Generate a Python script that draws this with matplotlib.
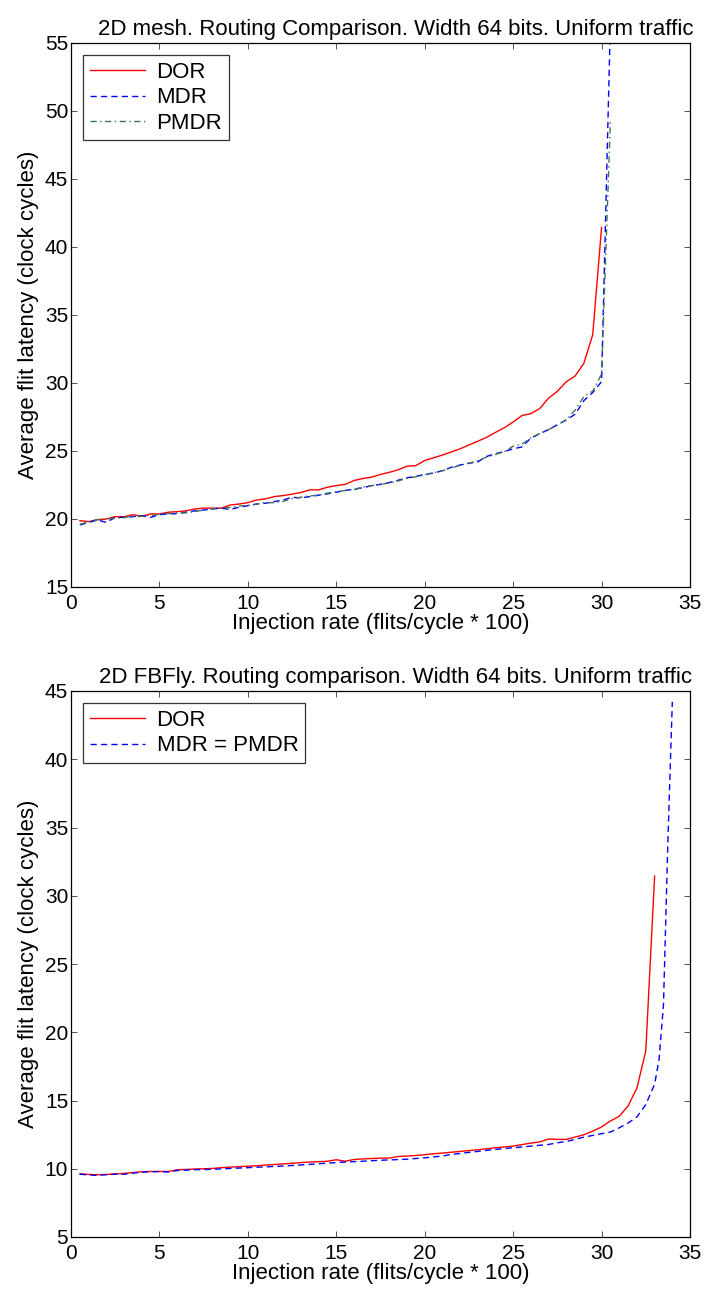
import numpy as np
import matplotlib
matplotlib.use("Agg")
import matplotlib.pyplot as plt
from matplotlib import font_manager

available = {f.name for f in font_manager.fontManager.ttflist}
family = [f for f in ["Liberation Sans", "DejaVu Sans"] if f in available]
plt.rcParams["font.family"] = family

# ---- 2D mesh data ----
mesh_rate_dor = np.arange(0.5, 30.01, 0.5)
mesh_dor = [19.88, 19.80, 19.95, 20.00, 20.17, 20.17, 20.32, 20.20, 20.37, 20.37,
            20.50, 20.54, 20.60, 20.74, 20.80, 20.80, 20.80, 21.03, 21.10, 21.20,
            21.40, 21.48, 21.65, 21.72, 21.83, 21.95, 22.14, 22.14, 22.34, 22.46,
            22.54, 22.83, 22.98, 23.08, 23.28, 23.43, 23.62, 23.88, 23.93, 24.30,
            24.50, 24.70, 24.93, 25.16, 25.44, 25.72, 26.00, 26.37, 26.71, 27.13,
            27.61, 27.75, 28.12, 28.88, 29.39, 30.09, 30.51, 31.45, 33.56, 41.43]

mesh_rate_mdr = np.arange(0.5, 30.51, 0.5)
mesh_mdr = [19.56, 19.75, 19.93, 19.75, 20.12, 20.12, 20.17, 20.25, 20.12, 20.32,
            20.37, 20.40, 20.50, 20.60, 20.66, 20.74, 20.80, 20.70, 20.86, 20.98,
            21.10, 21.16, 21.28, 21.40, 21.60, 21.55, 21.65, 21.75, 21.85, 21.97,
            22.10, 22.20, 22.30, 22.45, 22.55, 22.68, 22.85, 23.03, 23.13, 23.28,
            23.38, 23.55, 23.80, 23.97, 24.10, 24.20, 24.60, 24.80, 24.96, 25.16,
            25.30, 25.95, 26.28, 26.57, 26.93, 27.27, 27.70, 28.70, 29.30, 30.10,
            56.60]
mesh_pmdr = [19.60, 19.80, 19.95, 20.00, 20.05, 20.10, 20.20, 20.20, 20.25, 20.35,
             20.40, 20.45, 20.45, 20.55, 20.65, 20.75, 20.80, 20.85, 20.95, 21.00,
             21.10, 21.20, 21.20, 21.30, 21.50, 21.60, 21.70, 21.75, 21.90, 22.00,
             22.10, 22.15, 22.35, 22.45, 22.55, 22.65, 22.80, 23.00, 23.10, 23.25,
             23.40, 23.55, 23.75, 23.95, 24.10, 24.30, 24.55, 24.75, 24.95, 25.35,
             25.50, 25.95, 26.28, 26.57, 26.90, 27.30, 28.00, 29.00, 29.40, 30.66,
             49.30]

# ---- 2D FBFly data ----
fb_rate_dor = np.arange(0.5, 33.01, 0.5)
fb_dor = [9.63, 9.58, 9.56, 9.58, 9.62, 9.66, 9.72, 9.78, 9.80, 9.80,
          9.80, 9.92, 9.95, 9.98, 10.00, 10.02, 10.08, 10.12, 10.15, 10.19,
          10.22, 10.27, 10.31, 10.36, 10.40, 10.45, 10.49, 10.52, 10.55, 10.66,
          10.55, 10.68, 10.72, 10.75, 10.78, 10.78, 10.90, 10.93, 10.97, 11.03,
          11.10, 11.15, 11.21, 11.27, 11.33, 11.39, 11.46, 11.54, 11.60, 11.66,
          11.77, 11.88, 11.96, 12.18, 12.15, 12.15, 12.32, 12.49, 12.76, 13.06,
          13.50, 13.84, 14.60, 15.92, 18.63, 31.44]

fb_rate_mdr = np.concatenate([np.arange(0.5, 33.01, 0.5), [33.25, 33.5, 33.75, 34.0]])
fb_mdr = [9.60, 9.55, 9.51, 9.57, 9.60, 9.60, 9.68, 9.75, 9.78, 9.80,
          9.76, 9.87, 9.90, 9.93, 9.94, 9.96, 9.99, 10.02, 10.05, 10.08,
          10.11, 10.14, 10.17, 10.20, 10.24, 10.28, 10.32, 10.37, 10.41, 10.45,
          10.49, 10.52, 10.55, 10.59, 10.62, 10.65, 10.67, 10.70, 10.75, 10.80,
          10.87, 10.93, 11.05, 11.12, 11.20, 11.27, 11.35, 11.42, 11.48, 11.54,
          11.60, 11.66, 11.72, 11.78, 11.90, 12.00, 12.15, 12.32, 12.44, 12.57,
          12.69, 13.00, 13.35, 13.80, 14.70, 16.20, 18.00, 22.00, 34.00, 44.20]

x_ticks = [0, 5, 10, 15, 20, 25, 30, 35]
mesh_y_ticks = [15, 20, 25, 30, 35, 40, 45, 50, 55]
fb_y_ticks = [5, 10, 15, 20, 25, 30, 35, 40, 45]

TICK_FS = 15
LABEL_FS = 16
fig = plt.figure(figsize=(7.07, 12.91), dpi=100)

ax1 = fig.add_axes([71 / 707, 1 - 587 / 1291, 619 / 707, 544 / 1291])
ax2 = fig.add_axes([71 / 707, 1 - 1237 / 1291, 619 / 707, 546 / 1291])

red = "#ff0000"
blue = "#0000ff"
green = "#3f7356"

ax1.plot(mesh_rate_dor, mesh_dor, color=red, lw=1.0, label="DOR")
ax1.plot(mesh_rate_mdr, mesh_mdr, color=blue, lw=1.0, dashes=(4.5, 3), label="MDR")
ax1.plot(mesh_rate_mdr, mesh_pmdr, color=green, lw=1.0, dashes=(4.5, 2.5, 1, 2.5), label="PMDR")
ax1.set_ylim(15, 55)
ax1.set_yticks(mesh_y_ticks)
ax1.set_title("2D mesh. Routing Comparison. Width 64 bits. Uniform traffic",
              fontsize=LABEL_FS, x=0.525, pad=6)

ax2.plot(fb_rate_dor, fb_dor, color=red, lw=1.0, label="DOR")
ax2.plot(fb_rate_mdr, fb_mdr, color=blue, lw=1.0, dashes=(4.5, 3), label="MDR = PMDR")
ax2.set_ylim(5, 45)
ax2.set_yticks(fb_y_ticks)
ax2.set_title("2D FBFly. Routing comparison. Width 64 bits. Uniform traffic",
              fontsize=LABEL_FS, x=0.525, pad=6)

for ax in (ax1, ax2):
    ax.set_xlim(0, 35)
    ax.set_xticks(x_ticks)
    ax.tick_params(direction="in", top=True, right=True, length=4, width=0.6,
                   labelsize=TICK_FS, color="#333333")
    ax.tick_params(axis="x", pad=5)
    ax.tick_params(axis="y", pad=2)
    for sp in ax.spines.values():
        sp.set_linewidth(0.9)
    ax.set_xlabel("Injection rate (flits/cycle * 100)", fontsize=LABEL_FS, labelpad=0)
    ax.set_ylabel("Average flit latency (clock cycles)", fontsize=LABEL_FS, labelpad=4)
    leg = ax.legend(loc="upper left", fontsize=LABEL_FS, frameon=True, fancybox=False,
                    edgecolor="black", handlelength=2.5, borderpad=0.3,
                    labelspacing=0.2, handletextpad=0.5, borderaxespad=0.55)
    leg.get_frame().set_linewidth(0.9)

fig.savefig("out.png", dpi=100)
